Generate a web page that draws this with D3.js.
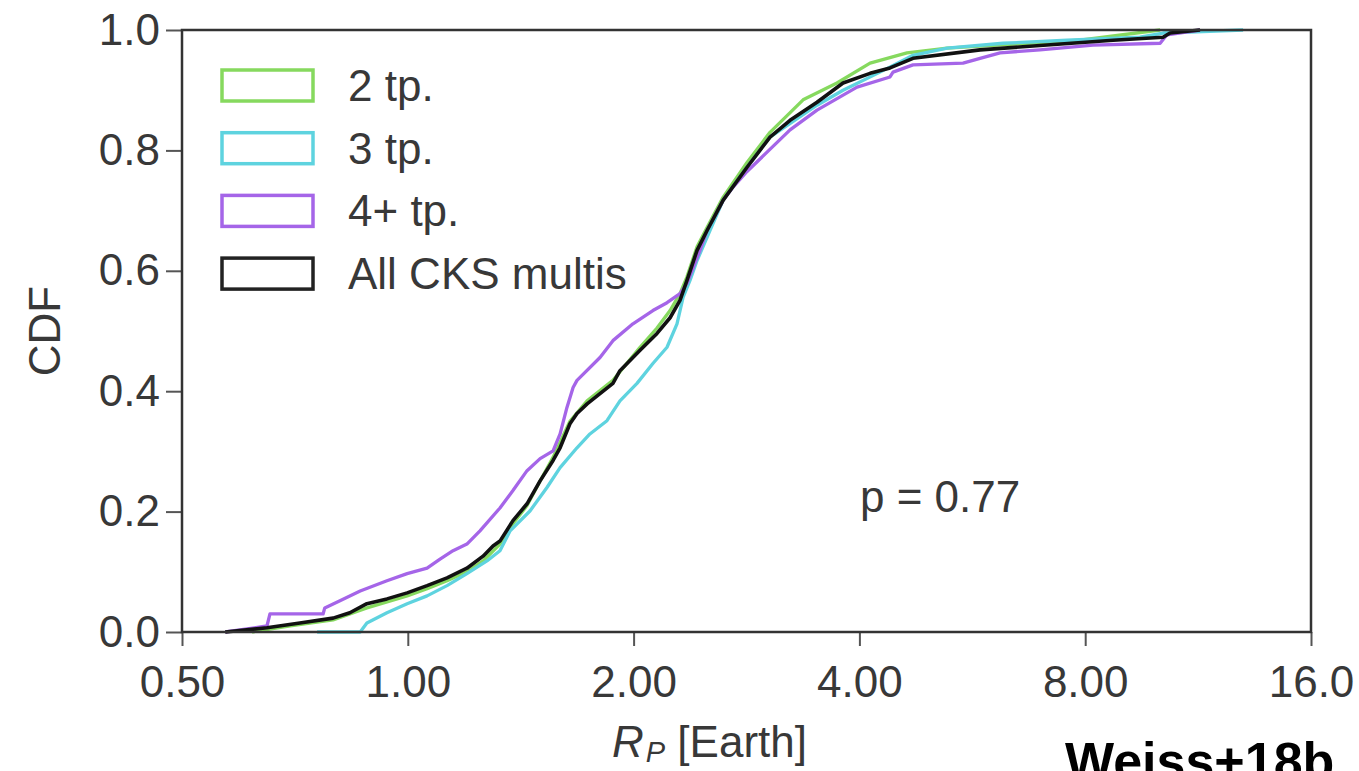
<!DOCTYPE html>
<html>
<head>
<meta charset="utf-8">
<script src="https://cdn.jsdelivr.net/npm/d3@7"></script>
<style>
  html, body { margin: 0; padding: 0; background: #fff; }
  svg { display: block; }
  text { font-family: "Liberation Sans", Arial, Helvetica, sans-serif; }
</style>
</head>
<body>
<svg id="chart" width="1359" height="771"></svg>
<script>
// ---------- data ----------
const seriesNames = ["2 tp.", "3 tp.", "4+ tp.", "All CKS multis"];
const seriesColors = ["#86d95e", "#5ed3df", "#a565e8", "#111111"];

// [radius (Earth radii), CDF]
const twoTp = [
  [0.62,0.0],[0.697,0.010],[0.795,0.020],[0.882,0.040],[0.998,0.060],[1.061,0.072],
  [1.128,0.085],[1.199,0.100],[1.260,0.118],[1.327,0.146],[1.381,0.180],[1.442,0.210],
  [1.501,0.251],[1.562,0.290],[1.645,0.350],[1.734,0.384],[1.877,0.418],[2.040,0.473],
  [2.149,0.505],[2.237,0.534],[2.306,0.562],[2.356,0.590],[2.430,0.640],[2.506,0.672],
  [2.632,0.722],[2.833,0.780],[3.040,0.830],[3.365,0.884],[3.734,0.912],[4.133,0.945],
  [4.629,0.962],[5.235,0.970],[7.875,0.983],[10.07,1.0]
];
const threeTp = [
  [0.757,0.0],[0.864,0.0],[0.882,0.015],[0.938,0.032],[0.998,0.047],[1.061,0.060],
  [1.128,0.077],[1.199,0.097],[1.275,0.118],[1.327,0.135],[1.369,0.168],[1.455,0.201],
  [1.533,0.240],[1.596,0.273],[1.681,0.306],[1.749,0.329],[1.843,0.351],[1.918,0.384],
  [2.021,0.413],[2.122,0.446],[2.216,0.473],[2.285,0.512],[2.328,0.556],[2.378,0.584],
  [2.430,0.617],[2.529,0.667],[2.632,0.717],[2.833,0.772],[3.040,0.822],[3.512,0.875],
  [3.804,0.900],[4.261,0.930],[4.715,0.958],[5.235,0.970],[6.217,0.978],[7.566,0.983],
  [9.465,0.988],[10.16,0.995],[12.99,1.0]
];
const fourPlusTp = [
  [0.571,0.0],[0.649,0.010],[0.655,0.030],[0.771,0.030],[0.775,0.040],[0.812,0.052],
  [0.864,0.068],[0.938,0.085],[0.998,0.097],[1.061,0.106],[1.104,0.121],[1.149,0.135],
  [1.199,0.146],[1.248,0.168],[1.327,0.206],[1.381,0.235],[1.442,0.268],[1.501,0.288],
  [1.562,0.301],[1.596,0.329],[1.630,0.373],[1.661,0.406],[1.681,0.418],[1.804,0.456],
  [1.877,0.484],[1.996,0.512],[2.122,0.534],[2.216,0.547],[2.306,0.562],[2.356,0.579],
  [2.452,0.634],[2.506,0.667],[2.632,0.717],[2.714,0.739],[2.833,0.765],[3.233,0.834],
  [3.512,0.867],[3.971,0.905],[4.394,0.922],[4.435,0.930],[4.715,0.942],[5.498,0.945],
  [5.793,0.953],[6.16,0.962],[6.963,0.967],[8.194,0.975],[10.07,0.978],[10.28,0.992],
  [11.38,1.0]
];
const allMultis = [
  [0.571,0.0],[0.649,0.007],[0.718,0.015],[0.795,0.023],[0.837,0.032],[0.882,0.047],
  [0.938,0.055],[0.998,0.065],[1.061,0.077],[1.128,0.090],[1.199,0.106],[1.260,0.126],
  [1.299,0.143],[1.327,0.151],[1.381,0.185],[1.442,0.213],[1.501,0.251],[1.562,0.285],
  [1.596,0.306],[1.645,0.346],[1.681,0.363],[1.734,0.379],[1.804,0.396],[1.877,0.413],
  [1.918,0.434],[2.040,0.468],[2.149,0.496],[2.237,0.522],[2.306,0.551],[2.356,0.584],
  [2.430,0.634],[2.506,0.667],[2.632,0.717],[2.833,0.772],[3.040,0.822],[3.233,0.850],
  [3.512,0.880],[3.804,0.912],[4.133,0.928],[4.394,0.937],[4.715,0.953],[5.793,0.967],
  [7.115,0.975],[8.713,0.983],[10.16,0.988],[10.38,0.995],[11.38,1.0]
];

const xTickValues = [0.5, 1, 2, 4, 8, 16];
const xTickLabels = ["0.50", "1.00", "2.00", "4.00", "8.00", "16.0"];
const yTickValues = [0.0, 0.2, 0.4, 0.6, 0.8, 1.0];
const yTickLabels = ["0.0", "0.2", "0.4", "0.6", "0.8", "1.0"];
const pValueText = "p = 0.77";
const creditText = "Weiss+18b";

// ---------- drawing ----------
const svg = d3.select("#chart");
const M = { left: 182, right: 1311, top: 30, bottom: 632 };
const textColor = "#383838";

const x = d3.scaleLog().base(2).domain([0.5, 16]).range([M.left, M.right]);
const y = d3.scaleLinear().domain([0, 1]).range([M.bottom, M.top]);

// curves
const line = d3.line().x(d => x(d[0])).y(d => y(d[1])).curve(d3.curveLinear);
const curveData = [twoTp, threeTp, fourPlusTp, allMultis];
const g = svg.append("g");
curveData.forEach((data, i) => {
  g.append("path")
    .datum(data)
    .attr("d", line)
    .attr("fill", "none")
    .attr("stroke", seriesColors[i])
    .attr("stroke-width", i === 3 ? 3.6 : 3.3)
    .attr("stroke-linejoin", "round");
});

// axes
const xAxis = d3.axisBottom(x)
  .tickValues(xTickValues)
  .tickFormat((d, i) => xTickLabels[i])
  .tickSize(14).tickPadding(20);
const xg = svg.append("g").attr("transform", `translate(0,${M.bottom})`).call(xAxis);
xg.select(".domain").remove();
xg.selectAll(".tick line").attr("stroke", "#555").attr("stroke-width", 2);
xg.selectAll(".tick text").attr("fill", textColor).style("font-size", "44px")
  .attr("font-family", "Liberation Sans, Arial, sans-serif");

const yAxis = d3.axisLeft(y)
  .tickValues(yTickValues)
  .tickFormat((d, i) => yTickLabels[i])
  .tickSize(16).tickPadding(6);
const yg = svg.append("g").attr("transform", `translate(${M.left},0)`).call(yAxis);
yg.select(".domain").remove();
yg.selectAll(".tick line").attr("stroke", "#555").attr("stroke-width", 2);
yg.selectAll(".tick text").attr("fill", textColor).style("font-size", "44px")
  .attr("font-family", "Liberation Sans, Arial, sans-serif");

// frame
svg.append("rect")
  .attr("x", M.left).attr("y", M.top)
  .attr("width", M.right - M.left).attr("height", M.bottom - M.top)
  .attr("fill", "none").attr("stroke", "#333").attr("stroke-width", 2.5);

// axis titles
svg.append("text")
  .attr("transform", `translate(60,${(M.top + M.bottom) / 2}) rotate(-90)`)
  .attr("text-anchor", "middle")
  .attr("fill", textColor).style("font-size", "44px")
  .text("CDF");

const xt = svg.append("text")
  .attr("x", 612).attr("y", 757)
  .attr("fill", textColor).style("font-size", "44px");
xt.append("tspan").attr("font-style", "italic").text("R");
xt.append("tspan").attr("font-style", "italic").style("font-size", "29px").attr("dy", 5).attr("dx", 2).text("P");
xt.append("tspan").attr("dy", -5).text(" [Earth]");

// p-value annotation
svg.append("text")
  .attr("x", 860).attr("y", 512)
  .attr("fill", textColor).style("font-size", "44px")
  .text(pValueText);

// legend
const legend = svg.append("g");
seriesNames.forEach((name, i) => {
  const yy = 70 + i * 62.7;
  legend.append("rect")
    .attr("x", 222).attr("y", yy)
    .attr("width", 91).attr("height", 31)
    .attr("fill", "#fff")
    .attr("stroke", i === 3 ? "#222" : seriesColors[i])
    .attr("stroke-width", 3.5);
  legend.append("text")
    .attr("x", 348).attr("y", yy + 31)
    .attr("fill", textColor).style("font-size", "44px")
    .text(name);
});

// credit (cropped at the bottom edge, as in the reference)
svg.append("text")
  .attr("x", 1065).attr("y", 779)
  .attr("fill", "#000").attr("font-weight", "bold")
  .style("font-size", "52px")
  .text(creditText);
</script>
</body>
</html>
